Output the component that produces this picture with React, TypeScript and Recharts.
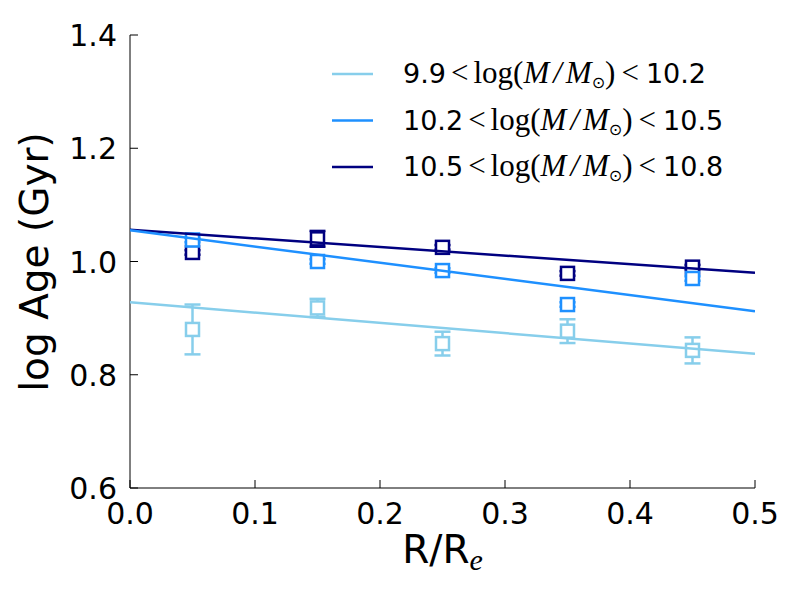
import React from 'react';
import { ComposedChart, Line, Scatter, ErrorBar, XAxis, YAxis } from 'recharts';

// radial bins (R/Re) and measured log age per mass bin
const radius = [0.05, 0.15, 0.25, 0.35, 0.45];
const lowAge = [0.880, 0.918, 0.855, 0.877, 0.843];
const lowErr = [0.044, 0.016, 0.021, 0.021, 0.023];
const midAge = [1.038, 1.000, 0.984, 0.924, 0.970];
const midErr = [0.004, 0.004, 0.004, 0.004, 0.004];
const highAge = [1.016, 1.040, 1.025, 0.979, 0.990];
const highErr = [0.004, 0.014, 0.004, 0.004, 0.004];

// linear fits, sampled at the ends of the x range
const fitX = [0, 0.5];
const lowFit = [0.928, 0.837];
const midFit = [1.055, 0.912];
const highFit = [1.056, 0.980];

const xTicks = [0, 0.1, 0.2, 0.3, 0.4, 0.5];
const yTicks = [0.6, 0.8, 1.0, 1.2, 1.4];

const series = [
  { key: 'high', lo: '10.5', hi: '10.8', color: '#000080', age: highAge, err: highErr, fit: highFit },
  { key: 'mid', lo: '10.2', hi: '10.5', color: '#1E90FF', age: midAge, err: midErr, fit: midFit },
  { key: 'low', lo: '9.9', hi: '10.2', color: '#87CEEB', age: lowAge, err: lowErr, fit: lowFit },
];

const legendOrder = ['low', 'mid', 'high'];

const SANS = 'DejaVu Sans, sans-serif';
const SERIF = 'Liberation Serif, serif';

const square = (color: string) => (props: any) => {
  const { cx, cy } = props;
  if (cx == null || cy == null) return null;
  return <rect x={cx - 6.5} y={cy - 6.5} width={13} height={13} fill="#fff" stroke={color} strokeWidth={2.5} />;
};

const BottomTick = ({ x, y, payload }: any) => (
  <g>
    <line x1={x} x2={x} y1={y} y2={y - 8} stroke="#000" />
    <text x={x} y={y + 36} textAnchor="middle" fontSize={30} fontFamily={SANS} fill="#000">
      {payload.value.toFixed(1)}
    </text>
  </g>
);

const LeftTick = ({ x, y, payload }: any) => (
  <g>
    <line x1={x} x2={x + 8} y1={y} y2={y} stroke="#000" />
    <text x={x - 13} y={y + 11} textAnchor="end" fontSize={30} fontFamily={SANS} fill="#000">
      {payload.value.toFixed(1)}
    </text>
  </g>
);

const TopTick = ({ x, y }: any) => <line x1={x} x2={x} y1={y} y2={y + 8} stroke="#000" />;
const RightTick = ({ x, y }: any) => <line x1={x} x2={x - 8} y1={y} y2={y} stroke="#000" />;

const MassLegend = () => (
  <svg width={440} height={160} style={{ position: 'absolute', left: 325, top: 50 }}>
    {legendOrder.map((k, i) => {
      const s = series.find((d) => d.key === k)!;
      const cy = 24 + i * 46.5;
      return (
        <g key={k}>
          <line x1={7} x2={48} y1={cy} y2={cy} stroke={s.color} strokeWidth={2.5} />
          <text x={78} y={cy + 9} fill="#000">
            <tspan fontFamily={SANS} fontSize={27}>{s.lo}</tspan>
            <tspan fontFamily={SERIF} fontSize={31} dx={5}>{'<'}</tspan>
            <tspan fontFamily={SERIF} fontSize={31} dx={5}>log(</tspan>
            <tspan fontFamily={SERIF} fontSize={31} fontStyle="italic">M</tspan>
            <tspan fontFamily={SERIF} fontSize={31} fontStyle="italic" dx={4}>/</tspan>
            <tspan fontFamily={SERIF} fontSize={31} fontStyle="italic" dx={4}>M</tspan>
            <tspan fontFamily={SANS} fontSize={16} dy={5}>{'\u2299'}</tspan>
            <tspan fontFamily={SERIF} fontSize={31} dy={-5}>)</tspan>
            <tspan fontFamily={SERIF} fontSize={31} dx={6}>{'<'}</tspan>
            <tspan fontFamily={SANS} fontSize={27} dx={7}>{s.hi}</tspan>
          </text>
        </g>
      );
    })}
  </svg>
);

export default function App() {
  return (
    <div style={{ position: 'absolute', left: 0, top: 0, width: 800, height: 600, background: '#fff' }}>
      <ComposedChart width={800} height={600} margin={{ top: 35, right: 45, bottom: 0, left: 0 }}>
        <XAxis
          dataKey="x"
          type="number"
          domain={[0, 0.5]}
          ticks={xTicks}
          allowDataOverflow
          height={112}
          tickLine={false}
          tickSize={0}
          tickMargin={0}
          axisLine={{ stroke: '#000' }}
          tick={<BottomTick />}
          interval={0}
          label={{
            content: ({ viewBox }: any) => (
              <text x={viewBox.x + viewBox.width / 2} y={563} textAnchor="middle" fill="#000">
                <tspan fontFamily={SANS} fontSize={39}>R/R</tspan>
                <tspan fontFamily={SERIF} fontStyle="italic" fontSize={30} dy={7}>e</tspan>
              </text>
            ),
          }}
        />
        <XAxis
          xAxisId="top"
          orientation="top"
          dataKey="x"
          type="number"
          domain={[0, 0.5]}
          ticks={xTicks}
          height={0}
          tickLine={false}
          tickSize={0}
          tickMargin={0}
          axisLine={{ stroke: '#000' }}
          tick={<TopTick />}
          interval={0}
        />
        <YAxis
          type="number"
          domain={[0.6, 1.4]}
          ticks={yTicks}
          allowDataOverflow
          width={130}
          tickLine={false}
          tickSize={0}
          tickMargin={0}
          axisLine={{ stroke: '#000' }}
          tick={<LeftTick />}
          interval={0}
          label={{
            content: () => (
              <text x={48} y={262} transform="rotate(-90, 48, 262)" textAnchor="middle" fontFamily={SANS} fontSize={39} fill="#000">
                log Age (Gyr)
              </text>
            ),
          }}
        />
        <YAxis
          yAxisId="right"
          orientation="right"
          type="number"
          domain={[0.6, 1.4]}
          ticks={yTicks}
          width={0}
          tickLine={false}
          tickSize={0}
          tickMargin={0}
          axisLine={{ stroke: '#000' }}
          tick={<RightTick />}
          interval={0}
        />
        {series.map((s) => (
          <Scatter
            key={s.key + '-pts'}
            name={s.key + '-pts'}
            data={radius.map((x, i) => ({ x, y: s.age[i], err: s.err[i] }))}
            dataKey="y"
            shape={square(s.color)}
            legendType="none"
            isAnimationActive={false}
          >
            <ErrorBar dataKey="err" direction="y" width={8} stroke={s.color} strokeWidth={2.5} />
          </Scatter>
        ))}
        {series.map((s) => (
          <Line
            key={s.key + '-fit'}
            name={s.key}
            data={fitX.map((x, i) => ({ x, y: s.fit[i] }))}
            dataKey="y"
            stroke={s.color}
            strokeWidth={2.5}
            dot={false}
            activeDot={false}
            isAnimationActive={false}
            zIndex={700}
          />
        ))}
      </ComposedChart>
      <MassLegend />
    </div>
  );
}
